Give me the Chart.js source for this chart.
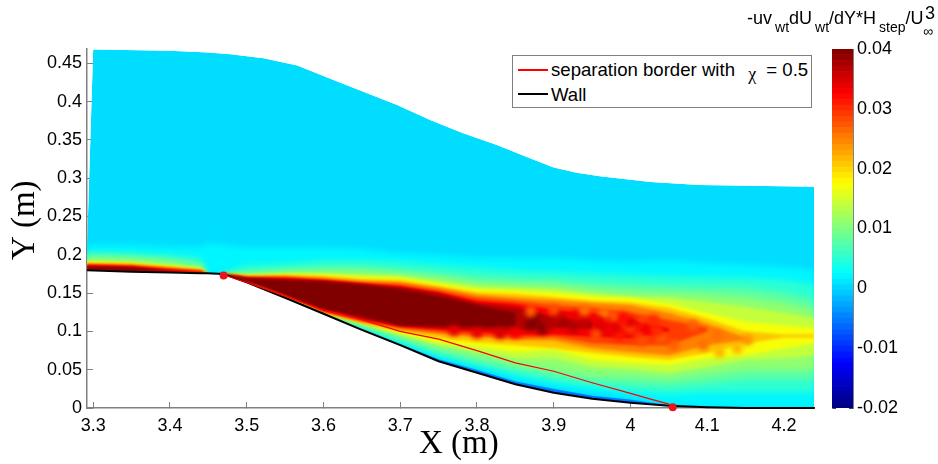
<!DOCTYPE html>
<html>
<head>
<meta charset="utf-8">
<script src="https://cdn.jsdelivr.net/npm/chart.js@4/dist/chart.umd.min.js"></script>
<style>
body { margin:0; background:#fff; width:938px; height:464px; overflow:hidden; position:relative; font-family:"Liberation Sans",Arial,sans-serif; color:#000; }
canvas { position:absolute; top:0; }
#cbTitle { position:absolute; left:747px; top:5px; font-size:18px; white-space:nowrap; line-height:26px; }
#cbTitle sub { font-size:14px; vertical-align:-8px; line-height:0; margin-left:3px; }
#cbTitle .inf { position:absolute; left:176px; top:19px; font-size:14px; line-height:14px; }
#cbTitle .cube { position:absolute; left:178px; top:-1px; font-size:18px; line-height:18px; }
#legend { position:absolute; left:512px; top:55px; width:298px; height:51px; border:1px solid #808080; background:#fff; font-size:18.6px; }
#legend .key { position:absolute; left:5px; width:30px; }
#legend .lab { position:absolute; left:38px; white-space:nowrap; line-height:20px; }
#legend .chi { font-family:"Liberation Serif",serif; font-size:18px; position:relative; top:4px; margin:0 5px 0 8px; }
</style>
</head>
<body>
<canvas id="field" width="938" height="464" style="left:0"></canvas>
<canvas id="bar" width="138" height="464" style="left:800px"></canvas>
<div id="legend">
  <div class="key" style="top:13px;height:2px;background:#f00"></div>
  <div class="lab" style="top:4px">separation border with <span class="chi">&#967;</span> = 0.5</div>
  <div class="key" style="top:37px;height:2px;background:#000"></div>
  <div class="lab" style="top:29px">Wall</div>
</div>
<div id="cbTitle">-uv<sub>wt</sub>dU<sub>wt</sub>/dY*H<sub>step</sub>/U<span class="cube">3</span><span class="inf">&#8734;</span></div>
<script>
// tick labels
const xTicks = [3.3,3.4,3.5,3.6,3.7,3.8,3.9,4,4.1,4.2];
const yTicks = [0,0.05,0.1,0.15,0.2,0.25,0.3,0.35,0.4,0.45];
const barTicks = [-0.02,-0.01,0,0.01,0.02,0.03,0.04];

// edge of the measured area
const edgeX = [3.3,3.4,3.45,3.479,3.522,3.566,3.609,3.652,3.696,3.739,3.782,3.826,3.869,3.9,3.93,3.96,4.026,4.09,4.24];
const edgeY = [.468,.4665,.464,.462,.4565,.447,.430,.413,.3956,.376,.3586,.3433,.326,.314,.307,.3025,.295,.291,.289];

// wall and contour columns
const colX = [3.292,3.35,3.4,3.44,3.448,3.47,3.5,3.55,3.6,3.65,3.7,3.75,3.8,3.85,3.9,3.95,4,4.05,4.1,4.15,4.2,4.24];
const wallY = [.180,.178,.177,.176,.176,.175,.164,.144,.123,.102,.082,.061,.046,.031,.020,.012,.007,.003,.001,0,0,0];

// upper and lower limit of each contour level, same columns as colX
const top002 = [.213,.213,.211,.210,.215,.213,.210,.210,.210,.208,.202,.200,.196,.196,.196,.193,.191,.193,.189,.187,.184,.180];
const low002 = [.180,.178,.177,.176,.176,.175,.164,.144,.124,.104,.085,.065,.052,.037,.027,.020,.013,.004,.001,0,0,0];
const top005 = [.204,.202,.200,.196,.176,.175,.187,.189,.193,.193,.191,.187,.183,.180,.178,.176,.174,.172,.171,.170,.167,.161];
const low005 = [.180,.178,.177,.176,.176,.175,.164,.144,.123,.106,.086,.069,.056,.043,.034,.027,.021,.018,.020,.020,.020,.020];
const top008 = [.200,.198,.195,.189,.176,.175,.178,.181,.184,.184,.180,.176,.171,.168,.167,.163,.161,.159,.158,.157,.150,.141];
const low008 = [.180,.178,.177,.176,.176,.175,.164,.145,.124,.107,.090,.073,.060,.050,.040,.034,.030,.028,.032,.037,.037,.037];
const top011 = [.196,.195,.191,.185,.176,.175,.175,.178,.179,.179,.176,.171,.164,.162,.161,.155,.151,.150,.148,.144,.137,.128];
const low011 = [.180,.178,.177,.176,.176,.175,.164,.145,.124,.108,.093,.078,.067,.056,.050,.042,.041,.038,.044,.050,.050,.050];
const top014 = [.192,.191,.187,.183,.176,.175,.174,.176,.176,.174,.172,.166,.159,.157,.155,.149,.145,.144,.138,.132,.124,.117];
const low014 = [.180,.178,.177,.176,.176,.175,.165,.146,.124,.110,.095,.082,.073,.065,.065,.054,.051,.046,.054,.063,.065,.069];
const top017 = [.191,.189,.185,.181,.176,.175,.173,.174,.174,.171,.170,.162,.155,.153,.150,.146,.144,.136,.124,.113,.108,.104];
const low017 = [.180,.178,.177,.176,.176,.175,.165,.147,.125,.111,.098,.086,.080,.073,.076,.063,.059,.056,.065,.069,.078,.085];
const top021 = [.189,.188,.184,.180,.176,.175,.172,.173,.172,.168,.167,.159,.151,.149,.145,.140,.138,.131,.117,.100,.096,.096];
const low021 = [.180,.178,.177,.176,.176,.175,.166,.147,.125,.112,.101,.091,.086,.082,.078,.072,.067,.063,.072,.084,.092,.092];
const top025 = [.188,.187,.183,.180,.176,.175,.172,.172,.170,.166,.164,.157,.148,.144,.141,.137,.134,.124,.110,.092,null,null];
const low025 = [.180,.178,.177,.176,.176,.175,.166,.148,.125,.112,.102,.097,.093,.089,.088,.078,.073,.069,.082,.088,null,null];
const top029 = [.187,.186,.182,.179,.176,.175,.171,.171,.168,.164,.162,.154,.144,.140,.134,.131,.125,.115,.105,null,null,null];
const low029 = [.180,.178,.177,.176,.176,.175,.166,.149,.126,.114,.104,.099,.095,.091,.093,.085,.082,.082,.100,null,null,null];
const top033 = [.187,.185,.181,.179,.176,.175,.170,.170,.167,.163,.159,.151,.140,.136,.128,.124,.115,.104,null,null,null,null];
const low033 = [.180,.178,.177,.176,.176,.175,.166,.148,.127,.115,.106,.102,.099,.095,.096,.093,.091,.100,null,null,null,null];
const top037 = [.185,.184,.180,.176,.176,.175,.170,.168,.166,.162,.158,.150,.137,.132,.119,.113,null,null,null,null,null,null];
const low037 = [.181,.179,.178,.176,.176,.175,.166,.148,.128,.117,.107,.104,.102,.101,.106,.103,null,null,null,null,null,null];
const top040 = [.184,.183,.178,.176,.176,.175,.169,.167,.165,.161,.155,.146,.134,.124,null,null,null,null,null,null,null,null];
const low040 = [.181,.179,.178,.176,.176,.175,.166,.148,.129,.119,.108,.107,.106,.107,null,null,null,null,null,null,null,null];

// mottled patches inside the wake, read one by one
const spotX = [3.87,3.885,3.875,3.895,3.91,3.925,3.94,3.96,3.905,3.93,3.87,3.90,3.94,3.965,3.98,3.955,3.99,3.985,4.0,4.02,4.01,4.03,4.015,4.04,4.0,3.98,3.96,4.02,3.99,4.03,4.035,4.082,4.113,4.152,4.139,4.116,4.095,4.056,3.8,3.83,3.85,3.77];
const spotY = [.108,.103,.115,.109,.112,.106,.112,.104,.119,.120,.126,.128,.127,.122,.118,.096,.11,.095,.105,.112,.096,.102,.088,.092,.112,.105,.113,.105,.118,.115,.100,.108,.095,.089,.078,.073,.082,.082,.098,.097,.098,.101];
const spotV = [.04,.04,.04,.037,.038,.037,.036,.035,.036,.034,.027,.028,.026,.025,.027,.028,.03,.031,.028,.028,.03,.031,.028,.027,.034,.034,.034,.033,.032,.03,.03,.027,.026,.024,.022,.022,.026,.027,.034,.035,.033,.034];

// thin low value layer on the wall
const skinX = [3.65,3.7,3.75,3.8,3.85,3.9,3.95,4,4.05];
const skinTop = [.104,.084,.064,.050,.035,.025,.016,.011,.004];
const skinLow = [.102,.082,.061,.046,.031,.020,.012,.007,.003];

// separation border and its two end points
const sepX = [3.47,3.5,3.55,3.6,3.635,3.7,3.75,3.8,3.85,3.9,3.95,4,4.025,4.05,4.055];
const sepY = [.174,.164,.146,.128,.120,.100,.090,.075,.059,.048,.033,.019,.012,.005,.002];
const dotX = [3.47,4.055];
const dotY = [.173,.001];

function jet(v) {
  const p = (v + 0.02) / 0.06;
  const f = c => Math.round(255 * Math.max(0, Math.min(1, 1.5 - Math.abs(4 * p - c))));
  return 'rgb(' + f(3) + ',' + f(2) + ',' + f(1) + ')';
}

function xy(xs, ys) {
  const out = [];
  xs.forEach(function(x, i) { if (ys[i] !== null) out.push({x: x, y: ys[i]}); });
  return out;
}

function shape(pts, color, blur) {
  return { type:'scatter', showLine:true, data:pts, backgroundColor:color, borderWidth:0, pointRadius:0, fill:'shape', tension:0, field:true, blur:blur };
}

const levels = [
  [0.002, top002, low002], [0.005, top005, low005], [0.008, top008, low008], [0.011, top011, low011],
  [0.014, top014, low014], [0.017, top017, low017], [0.021, top021, low021], [0.025, top025, low025],
  [0.029, top029, low029], [0.033, top033, low033], [0.037, top037, low037], [0.040, top040, low040]
];

const outline = xy(edgeX, edgeY).concat(xy(colX, wallY).reverse(), [{x:3.292, y:.21}]);

let sets = [];
// paint order, lowest first
sets.push(shape(outline, jet(0.0005), 0));
sets.push(shape(xy(skinX, skinTop).concat(xy(skinX, skinLow).reverse()), jet(-0.007), 0));
levels.forEach(function(l) {
  sets.push(shape(xy(colX, l[1]).concat(xy(colX, l[2]).reverse()), jet(l[0]), l[0] < 0.012 ? 3 : (l[0] < 0.03 ? 1.8 : 0.9)));
});
sets.push({ type:'scatter', data:xy(spotX, spotY), backgroundColor:spotV.map(jet), borderWidth:0, pointRadius:6, pointStyle:'rectRounded', field:true, blur:2.6 });
sets.push({ type:'scatter', showLine:true, data:xy(colX, wallY), borderColor:'#000', borderWidth:2, pointRadius:0, clip:false });
sets.push({ type:'scatter', showLine:true, data:xy(sepX, sepY), borderColor:'#f00', borderWidth:1.2, pointRadius:0, clip:false });
sets.push({ type:'scatter', data:xy(dotX, dotY), backgroundColor:'#e8141c', borderWidth:0, pointRadius:4, clip:false });
sets.reverse();

// soften contour steps, kept inside the measured area
const softEdges = {
  id:'softEdges',
  beforeDatasetsDraw(chart) {
    const ctx = chart.ctx, sx = chart.scales.x, sy = chart.scales.y;
    ctx.save();
    ctx.beginPath();
    outline.forEach(function(p, i) {
      const px = sx.getPixelForValue(p.x), py = sy.getPixelForValue(p.y);
      if (i === 0) ctx.moveTo(px, py); else ctx.lineTo(px, py);
    });
    ctx.closePath();
    ctx.clip();
    chart.softOn = true;
  },
  afterDatasetDraw(chart, args) {
    const ctx = chart.ctx;
    const next = chart.data.datasets[args.index - 1];
    if (next && next.field) {
      ctx.filter = next.blur ? 'blur(' + next.blur + 'px)' : 'none';
    } else if (chart.softOn) {
      ctx.restore();
      chart.softOn = false;
    }
  }
};

const axisColor = '#808080';
const tickFont = { family:'"Liberation Sans"', size:18 };

new Chart(document.getElementById('field'), {
  data: { datasets: sets },
  plugins: [softEdges],
  options: {
    responsive:false, animation:false,
    layout: { padding:{ top:49, right:124, left:0, bottom:0 } },
    plugins: { legend:{display:false}, tooltip:{enabled:false} },
    scales: {
      x: {
        type:'linear', min:3.292, max:4.239,
        afterBuildTicks: s => { s.ticks = xTicks.map(v => ({value:v})); },
        afterFit: s => { s.height = 56; },
        grid: { drawOnChartArea:false, tickLength:-6, color:axisColor },
        border: { color:axisColor, width:1.5 },
        ticks: { font:tickFont, color:'#000', padding:13, maxRotation:0, autoSkip:false, callback:v => String(v) },
        title: { display:true, text:'  X (m)', font:{family:'"Liberation Serif"', size:33}, color:'#000', padding:{top:-14,bottom:0} }
      },
      y: {
        type:'linear', min:0, max:0.4687,
        afterBuildTicks: s => { s.ticks = yTicks.map(v => ({value:v})); },
        afterFit: s => { s.width = 87; },
        grid: { drawOnChartArea:false, tickLength:-6, color:axisColor },
        border: { color:axisColor, width:1.5 },
        ticks: { font:tickFont, color:'#000', padding:11, autoSkip:false, callback:v => String(v) },
        title: { display:true, text:'  Y (m)', font:{family:'"Liberation Serif"', size:33}, color:'#000', padding:{top:6,bottom:0} }
      }
    }
  }
});

// colour bar, 64 steps like the colormap of the figure
const barSets = [];
for (let i = 0; i < 64; i++) {
  const lo = -0.02 + i * 0.06 / 64;
  barSets.push({ type:'bar', data:[[lo, lo + 0.06 / 64]], backgroundColor:jet(lo + 0.03 / 64), grouped:false, barPercentage:1, categoryPercentage:1, borderWidth:0 });
}
new Chart(document.getElementById('bar'), {
  data: { labels:[''], datasets:barSets },
  options: {
    responsive:false, animation:false,
    layout: { padding:{ top:49, left:32, right:0, bottom:56 } },
    plugins: { legend:{display:false}, tooltip:{enabled:false} },
    scales: {
      x: { display:false, stacked:false },
      y: {
        type:'linear', position:'right', min:-0.02, max:0.04,
        afterBuildTicks: s => { s.ticks = barTicks.map(v => ({value:v})); },
        afterFit: s => { s.width = 85; },
        grid: { drawOnChartArea:false, tickLength:-4, color:'#444' },
        border: { color:axisColor, width:1 },
        ticks: { font:tickFont, color:'#000', padding:8, callback:v => String(v) }
      },
      y2: {
        type:'linear', position:'left', min:-0.02, max:0.04,
        afterBuildTicks: s => { s.ticks = barTicks.map(v => ({value:v})); },
        afterFit: s => { s.width = 0; },
        grid: { drawOnChartArea:false, tickLength:-4, color:'#444' },
        border: { color:axisColor, width:1 },
        ticks: { display:false }
      }
    }
  }
});
</script>
</body>
</html>
